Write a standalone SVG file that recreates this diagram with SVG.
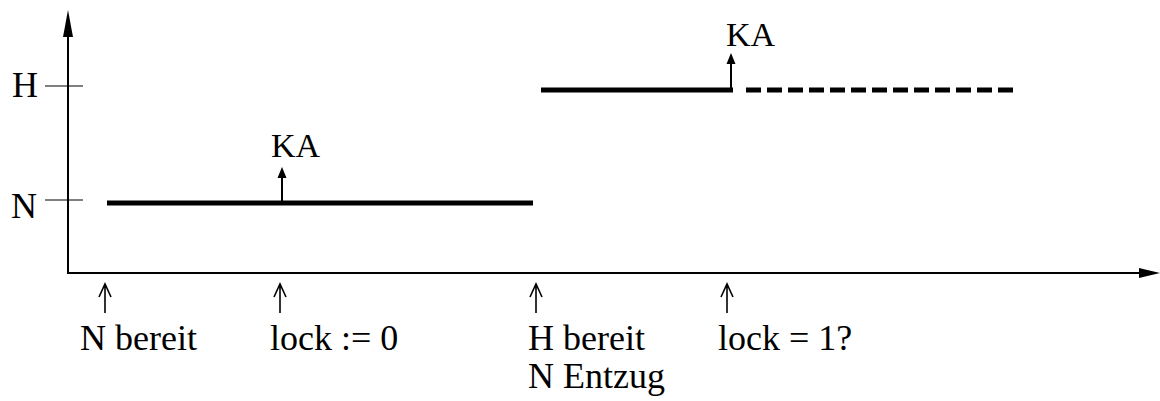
<svg xmlns="http://www.w3.org/2000/svg" width="1160" height="401" viewBox="0 0 1160 401">
<style>
text{font-family:"Liberation Serif","Times New Roman",serif;fill:#000}
.lbl{font-size:36px}
.ka{font-size:34px}
.axis{stroke:#000;stroke-width:2;fill:none}
.tick{stroke:#000;stroke-width:1;fill:none}
.level{stroke:#000;stroke-width:5;fill:none}
.dash{stroke:#000;stroke-width:5;fill:none;stroke-dasharray:15 6}
.ka-arrow{stroke:#000;stroke-width:2;fill:none}
.up{stroke:#000;stroke-width:1.6;fill:none}
</style>
<defs>
<marker id="ah" viewBox="0 0 10 10" refX="10" refY="5" markerWidth="10" markerHeight="10" markerUnits="userSpaceOnUse" orient="auto">
<path d="M0,0 L10,5 L0,10 Z" fill="#000"/>
</marker>
</defs>
<g id="axes">
<line class="axis" x1="68" y1="273" x2="68" y2="36"/>
<path d="M68,10 L63,37 L73,37 Z" fill="#000"/>
<line class="axis" x1="67" y1="273" x2="1141" y2="273"/>
<path d="M1160,273 L1139,268 L1139,278 Z" fill="#000"/>
<line class="tick" x1="45" y1="86" x2="83" y2="86"/>
<line class="tick" x1="45" y1="200" x2="83" y2="200"/>
<text class="lbl" x="12" y="97">H</text>
<text class="lbl" x="11" y="218">N</text>
</g>
<g id="level-N">
<line class="level" x1="107" y1="203" x2="533" y2="203"/>
</g>
<g id="level-H">
<line class="level" x1="541" y1="90" x2="733" y2="90"/>
<line class="dash" x1="746" y1="90" x2="1013" y2="90"/>
</g>
<g id="ka-low">
<line class="ka-arrow" x1="282" y1="203" x2="282" y2="176"/>
<path d="M282,167 L277.5,178 L286.5,178 Z" fill="#000"/>
<text class="ka" x="271" y="157">KA</text>
</g>
<g id="ka-high">
<line class="ka-arrow" x1="731" y1="90" x2="731" y2="62"/>
<path d="M731,53 L726.5,64 L735.5,64 Z" fill="#000"/>
<text class="ka" x="726" y="46">KA</text>
</g>
<g id="events">
<path class="up" d="M105,313 L105,284 M99,297 L105,284 L111,297"/>
<path class="up" d="M280,313 L280,284 M274,297 L280,284 L286,297"/>
<path class="up" d="M536,313 L536,284 M530,297 L536,284 L542,297"/>
<path class="up" d="M727,313 L727,284 M721,297 L727,284 L733,297"/>
<text class="lbl" x="80" y="350">N bereit</text>
<text class="lbl" x="270" y="350">lock := 0</text>
<text class="lbl" x="528" y="350">H bereit</text>
<text class="lbl" x="528" y="388">N Entzug</text>
<text class="lbl" x="718" y="350">lock = 1?</text>
</g>
</svg>
